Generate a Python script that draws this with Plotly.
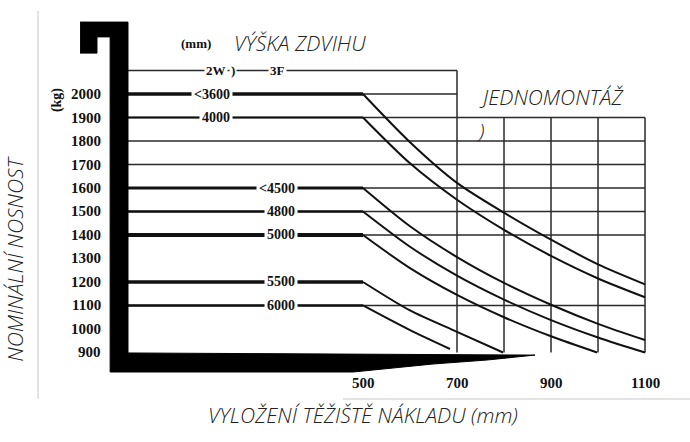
import plotly.graph_objects as go

# ---------------- data ----------------
kg_ticks = [2000, 1900, 1800, 1700, 1600, 1500, 1400, 1300, 1200, 1100, 1000, 900]
x_ticks = [500, 700, 900, 1100]

lift_heights = ["3600", "4000", "4500", "4800", "5000", "5500", "6000"]
rated_kg = [2000, 1900, 1600, 1500, 1400, 1200, 1100]

lc_3600 = [500, 600, 700, 800, 900, 1000, 1100]
cap_3600 = [2000, 1795, 1622, 1495, 1380, 1275, 1190]
lc_4000 = [500, 600, 700, 800, 900, 1000, 1100]
cap_4000 = [1900, 1705, 1550, 1422, 1311, 1215, 1135]
lc_4500 = [500, 600, 700, 800, 900, 1000, 1100]
cap_4500 = [1600, 1437, 1306, 1196, 1103, 1022, 953]
lc_4800 = [500, 600, 700, 800, 900, 1000, 1100]
cap_4800 = [1500, 1350, 1227, 1125, 1038, 964, 900]
lc_5000 = [500, 600, 700, 800, 900, 998]
cap_5000 = [1400, 1259, 1145, 1050, 969, 900]
lc_5500 = [500, 600, 700, 798]
cap_5500 = [1200, 1079, 988, 900]
lc_6000 = [500, 600, 685]
cap_6000 = [1100, 995, 915]

curves = [(lc_3600, cap_3600), (lc_4000, cap_4000), (lc_4500, cap_4500),
          (lc_4800, cap_4800), (lc_5000, cap_5000), (lc_5500, cap_5500),
          (lc_6000, cap_6000)]

grid_rows_full = [1900, 1800, 1700, 1600, 1500, 1400, 1100]
grid_rows_short = [2100, 2000]
grid_cols = [700, 800, 900, 1000, 1100]
grid_col_tops = [2100, 1900, 1900, 1900, 1900]

# mast + fork outline (mm, kg)
mast_x = [-102, 0, 0, 866, 764, 649, 479, -38, -38, -66, -66, -102]
mast_y = [2306, 2306, 898, 889, 868, 851, 817, 817, 2243, 2243, 2174, 2174]

top_labels = ["2W", ")", "3F"]
top_label_x = [187, 223, 319]

# ---------------- figure ----------------
fig = go.Figure()
INK = "#111111"
GRID = "#2a2a2a"

for r in grid_rows_full:
    fig.add_trace(go.Scatter(x=[0, 1100], y=[r, r], mode="lines",
                             line=dict(color=GRID, width=1.5), hoverinfo="skip"))
for r in grid_rows_short:
    fig.add_trace(go.Scatter(x=[0, 700], y=[r, r], mode="lines",
                             line=dict(color=GRID, width=1.5), hoverinfo="skip"))
for c, t in zip(grid_cols, grid_col_tops):
    fig.add_trace(go.Scatter(x=[c, c], y=[t, 900], mode="lines",
                             line=dict(color=GRID, width=1.5), hoverinfo="skip"))

widths = [3.5, 2, 3, 2.5, 4, 3.5, 2.5]
for kg, w in zip(rated_kg, widths):
    fig.add_trace(go.Scatter(x=[0, 500], y=[kg, kg], mode="lines",
                             line=dict(color=INK, width=w), hoverinfo="skip"))

for xs, ys in curves:
    fig.add_trace(go.Scatter(x=xs, y=ys, mode="lines",
                             line=dict(color=INK, width=2, shape="spline", smoothing=0.8),
                             hoverinfo="skip"))

fig.add_trace(go.Scatter(x=mast_x, y=mast_y, mode="lines", fill="toself",
                         fillcolor="#000000", line=dict(color="#000000", width=1),
                         hoverinfo="skip"))

serif = dict(family="Liberation Serif, DejaVu Serif, serif", size=15, color="#111111",
             weight="bold")
sans_it = dict(family="Open Sans, Lato, sans-serif", size=21, color="#222222",
               style="italic", weight=300)

ann = []
for k in kg_ticks:
    ann.append(dict(x=-53, y=k, text=str(k), showarrow=False, xanchor="right",
                    yanchor="middle", font=serif))
for v in x_ticks:
    ann.append(dict(x=v, y=770, text=str(v), showarrow=False, xanchor="center",
                    yanchor="middle", font=serif))
lift_text = ["<3600", "4000", "<4500", "4800", "5000", "5500", "6000"]
lift_right = [223, 223, 362, 362, 362, 362, 362]
for t, k, xr in zip(lift_text, rated_kg, lift_right):
    ann.append(dict(x=xr, y=k, text=t, showarrow=False, xanchor="right",
                    yanchor="middle", font=dict(serif, size=14), bgcolor="white",
                    borderpad=2))
for t, xv in zip(top_labels, top_label_x):
    ann.append(dict(x=xv, y=2100, text=t, showarrow=False, xanchor="center",
                    yanchor="middle", font=dict(serif, size=13), bgcolor="white",
                    borderpad=1))

ann += [
    dict(x=145, y=2217, text="(mm)", showarrow=False, font=dict(serif, size=13),
         xanchor="center", yanchor="middle"),
    dict(x=-151, y=1974, text="(kg)", showarrow=False, font=dict(serif, size=14),
         textangle=-90, xanchor="center", yanchor="middle"),
    dict(x=221, y=2217, text="<i>VÝŠKA ZDVIHU</i>", showarrow=False, font=sans_it,
         xanchor="left", yanchor="middle"),
    dict(x=743, y=1987, text="<i>JEDNOMONTÁŽ</i>", showarrow=False, font=sans_it,
         xanchor="left", yanchor="middle"),
    dict(x=751, y=1843, text="<i>)</i>", showarrow=False, font=sans_it,
         xanchor="center", yanchor="middle"),
    dict(x=-240, y=1300, text="<i>NOMINÁLNÍ NOSNOST</i>", showarrow=False, font=sans_it,
         textangle=-90, xanchor="center", yanchor="middle"),
    dict(x=500, y=636, text="<i>VYLOŽENÍ TĚŽIŠTĚ NÁKLADU (mm)</i>", showarrow=False,
         font=sans_it, xanchor="center", yanchor="middle"),
]

shapes = [
    dict(type="line", xref="paper", yref="paper", x0=38 / 690, x1=38 / 690,
         y0=1 - 11 / 442, y1=1 - 399 / 442, line=dict(color="#c8c8c8", width=1)),
    dict(type="line", xref="paper", yref="paper", x0=343 / 690, x1=1,
         y0=1 - 399 / 442, y1=1 - 399 / 442, line=dict(color="#c8c8c8", width=1)),
]

fig.update_layout(
    width=690, height=442,
    margin=dict(l=0, r=0, t=0, b=0),
    paper_bgcolor="white", plot_bgcolor="white",
    showlegend=False,
    xaxis=dict(range=[-272.3, 1195.7], visible=False, fixedrange=True),
    yaxis=dict(range=[519.1, 2400], visible=False, fixedrange=True),
    annotations=ann, shapes=shapes,
)

fig.write_html("out.html", config={"displayModeBar": False},
               post_script="document.body.style.margin='0';document.body.style.padding='0';")
